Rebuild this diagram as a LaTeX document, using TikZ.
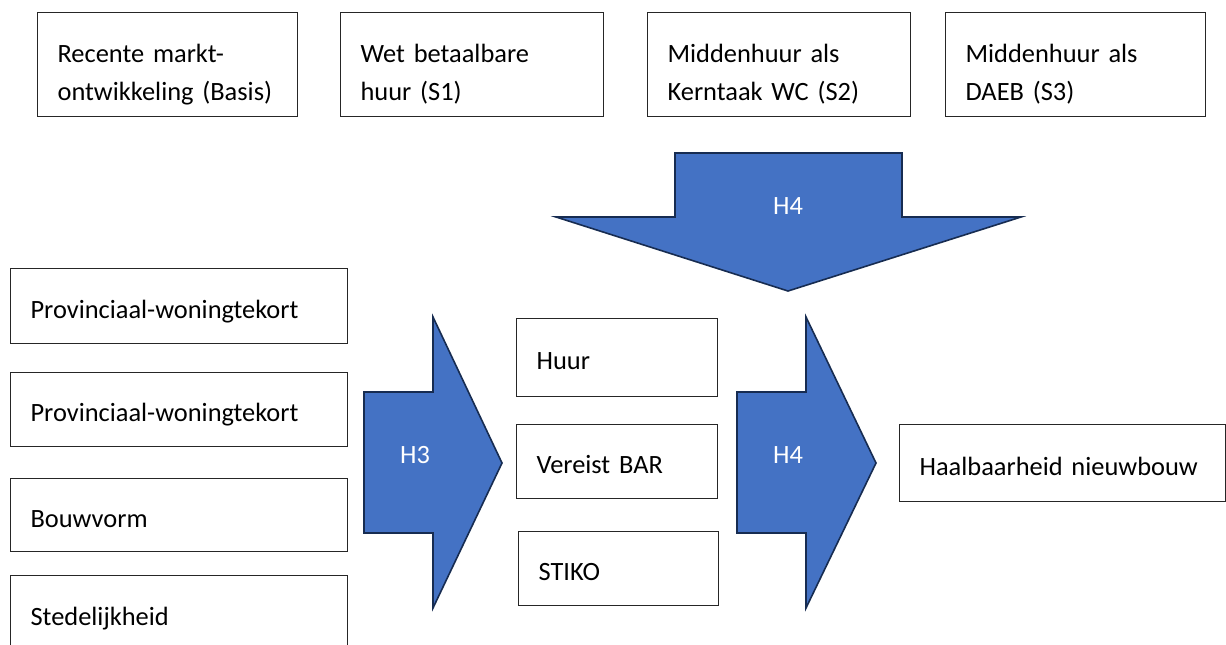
\documentclass[tikz,border=0pt]{standalone}
\usepackage{fontspec}
\setmainfont{Carlito}
\usepackage{xcolor}
\usepackage{tikz}
\usetikzlibrary{positioning,calc}

\definecolor{arrowblue}{HTML}{4472C4}
\definecolor{arrowedge}{HTML}{172C51}

\begin{document}
\begin{tikzpicture}[x=0.5pt,y=-0.5pt,
    box/.style={draw=black!85, line width=0.6pt, anchor=north west, inner xsep=10pt,
        align=left, font=\fontsize{13.2}{19}\selectfont},
    onebox/.style={box, text height=15pt, text depth=3pt},
    twobox/.style={box, text height=19.5pt, text depth=22pt},
    bigarrow/.style={fill=arrowblue, draw=arrowedge, line width=0.8pt, line join=miter},
    hlabel/.style={text=white, font=\fontsize{13.2}{16}\selectfont}]
    \useasboundingbox (0,0) rectangle (1226,644);

    % scenarios
    \node[twobox, minimum width=130pt, minimum height=52pt, text width=110pt] (basis) at (37,12) {Recente markt-\\ontwikkeling (Basis)};
    \node[twobox, minimum width=131.5pt, minimum height=52pt, text width=111.5pt] (wbh) at (340,12) {Wet betaalbare\\huur (S1)};
    \node[twobox, minimum width=131.5pt, minimum height=52pt, text width=111.5pt] (kern) at (647,12) {Middenhuur als\\Kerntaak WC (S2)};
    \node[twobox, minimum width=130pt, minimum height=52pt, text width=110pt] (daeb) at (945,12) {Middenhuur als\\DAEB (S3)};

    % inputs
    \node[onebox, minimum width=168.5pt, minimum height=37.5pt, text width=148.5pt] (tekort1) at (10,268) {Provinciaal-woningtekort};
    \node[onebox, minimum width=168.5pt, minimum height=37pt, text width=148.5pt] (tekort2) at (10,372) {Provinciaal-woningtekort};
    \node[onebox, minimum width=168.5pt, minimum height=36.5pt, text width=148.5pt] (bouwvorm) at (10,478) {Bouwvorm};
    \node[onebox, minimum width=168.5pt, minimum height=37.5pt, text width=148.5pt] (stedelijk) at (10,575) {Stedelijkheid};

    \node[onebox, minimum width=100.5pt, minimum height=39pt, text width=80.5pt] (huur) at (516,318) {Huur};
    \node[onebox, minimum width=100.5pt, minimum height=37pt, text width=80.5pt] (bar) at (516,424) {Vereist BAR};
    \node[onebox, minimum width=100pt, minimum height=37pt, text width=80pt] (stiko) at (518,531) {STIKO};

    \node[onebox, minimum width=163pt, minimum height=38.5pt, text width=143pt] (haalbaar) at (899,424) {Haalbaarheid nieuwbouw};

    % arrows
    \draw[bigarrow] (364,392) -- (433,392) -- (433,317) -- (502,463) -- (433,608) -- (433,533) -- (364,533) -- cycle;
    \node[hlabel] (h3) at (415,455) {H3};
    \draw[bigarrow] (737,392) -- (806,392) -- (806,317) -- (876,463) -- (806,608) -- (806,533) -- (737,533) -- cycle;
    \node[hlabel] (h4r) at (788,455) {H4};
    \draw[bigarrow] (675,153) -- (902,153) -- (902,217) -- (1021,217) -- (788,291) -- (556,217) -- (675,217) -- cycle;
    \node[hlabel] (h4d) at (788,206) {H4};
\end{tikzpicture}
\end{document}
